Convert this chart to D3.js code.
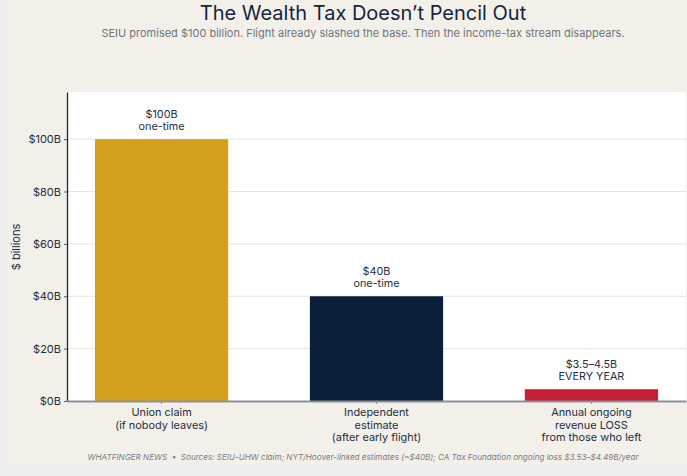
<!DOCTYPE html>
<html>
<head>
<meta charset="utf-8">
<script src="https://cdn.jsdelivr.net/npm/d3@7"></script>
<style>
  html, body { margin: 0; padding: 0; background: #eeeeee; }
  svg { display: block; font-family: Inter, "Noto Sans", sans-serif; }
</style>
</head>
<body>
<div id="chart"></div>
<script>
// ***** Chart data *****
var categories = [
  ["Union claim", "(if nobody leaves)"],
  ["Independent", "estimate", "(after early flight)"],
  ["Annual ongoing", "revenue LOSS", "from those who left"]
];
var values = [100, 40, 4.5];
var barLabels = [
  ["$100B", "one-time"],
  ["$40B", "one-time"],
  ["$3.5\u20134.5B", "EVERY YEAR"]
];
var barColors = ["#D4A01B", "#0B1F3A", "#C81E3A"];
var yTicks = [0, 20, 40, 60, 80, 100];

// ***** Sizes *****
var svgWidth = 687;
var svgHeight = 476;
var margin = { top: 92, right: 1, bottom: 75, left: 67 };
var width = svgWidth - margin.left - margin.right;
var height = svgHeight - margin.top - margin.bottom;

var svg = d3.select("#chart").append("svg")
  .attr("width", svgWidth)
  .attr("height", svgHeight);

// beige panel (leaves thin gray strip left and bottom)
svg.append("rect")
  .attr("x", 6).attr("y", 0)
  .attr("width", svgWidth - 6).attr("height", 466)
  .attr("fill", "#f3f0e9");

// title + subtitle
svg.append("text")
  .attr("x", 363).attr("y", 20)
  .attr("text-anchor", "middle")
  .attr("font-size", "20px")
  .attr("fill", "#16253f")
  .text("The Wealth Tax Doesn\u2019t Pencil Out");

svg.append("text")
  .attr("x", 363).attr("y", 36.5)
  .attr("text-anchor", "middle")
  .attr("font-size", "11px")
  .attr("fill", "#70747c")
  .text("SEIU promised $100 billion. Flight already slashed the base. Then the income-tax stream disappears.");

var chartGroup = svg.append("g")
  .attr("transform", `translate(${margin.left}, ${margin.top})`);

// plot background
chartGroup.append("rect")
  .attr("width", width)
  .attr("height", height)
  .attr("fill", "#ffffff");

// ***** Scales *****
var xScale = d3.scaleBand()
  .domain(d3.range(categories.length))
  .range([0, width])
  .paddingInner(0.38)
  .paddingOuter(0.13);

var yScale = d3.scaleLinear()
  .domain([0, 118])
  .range([height, 0]);

// gridlines
chartGroup.selectAll(".grid")
  .data(yTicks.filter(d => d > 0))
  .enter()
  .append("line")
  .attr("x1", 0).attr("x2", width)
  .attr("y1", d => yScale(d)).attr("y2", d => yScale(d))
  .attr("stroke", "#e7e4da")
  .attr("stroke-width", 1);

// bars
chartGroup.selectAll(".bar")
  .data(values)
  .enter()
  .append("rect")
  .attr("x", (d, i) => xScale(i))
  .attr("y", d => yScale(d))
  .attr("width", xScale.bandwidth())
  .attr("height", d => height - yScale(d))
  .attr("fill", (d, i) => barColors[i]);

// bar labels, one text per line
values.forEach(function(d, i) {
  var cx = xScale(i) + xScale.bandwidth() / 2;
  var lines = barLabels[i];
  lines.forEach(function(line, j) {
    chartGroup.append("text")
      .attr("x", cx)
      .attr("y", yScale(d) - 9 - (lines.length - 1 - j) * 12.4)
      .attr("text-anchor", "middle")
      .attr("font-size", "10.8px")
      .attr("fill", "#1f2d45")
      .text(line);
  });
});

// y axis
var yAxis = chartGroup.append("g")
  .call(d3.axisLeft(yScale).tickValues(yTicks).tickSize(3).tickSizeOuter(0).tickFormat(d => `$${d}B`));
yAxis.select(".domain").attr("stroke", "#1f2937").attr("stroke-width", 1.3);
yAxis.selectAll(".tick line").attr("stroke", "#555");
yAxis.selectAll(".tick text")
  .attr("font-size", "11px")
  .attr("font-family", "Inter, sans-serif")
  .attr("fill", "#1f2d45")
  .attr("x", -6);

// x axis
var xAxis = chartGroup.append("g")
  .attr("transform", `translate(0, ${height})`)
  .call(d3.axisBottom(xScale).tickSize(3).tickSizeOuter(0).tickFormat(""));
xAxis.select(".domain").attr("stroke", "#8b8f97").attr("stroke-width", 1.8);
xAxis.selectAll(".tick line").attr("stroke", "#8b8f97");

// x tick labels, one text per line
categories.forEach(function(lines, i) {
  var cx = xScale(i) + xScale.bandwidth() / 2;
  lines.forEach(function(line, j) {
    chartGroup.append("text")
      .attr("x", cx)
      .attr("y", height + 15 + j * 12.5)
      .attr("text-anchor", "middle")
      .attr("font-size", "10.9px")
      .attr("fill", "#1f2d45")
      .text(line);
  });
});

// y axis title
svg.append("text")
  .attr("transform", "translate(20, 247) rotate(-90)")
  .attr("text-anchor", "middle")
  .attr("font-size", "11px")
  .attr("fill", "#1f2d45")
  .text("$ billions");

// footer
svg.append("text")
  .attr("x", 363).attr("y", 460)
  .attr("text-anchor", "middle")
  .attr("font-size", "8.1px")
  .attr("font-style", "italic")
  .attr("fill", "#7a7d83")
  .attr("xml:space", "preserve")
  .text("WHATFINGER NEWS  \u2022  Sources: SEIU-UHW claim; NYT/Hoover-linked estimates (~$40B); CA Tax Foundation ongoing loss $3.53\u2013$4.49B/year");
</script>
</body>
</html>
